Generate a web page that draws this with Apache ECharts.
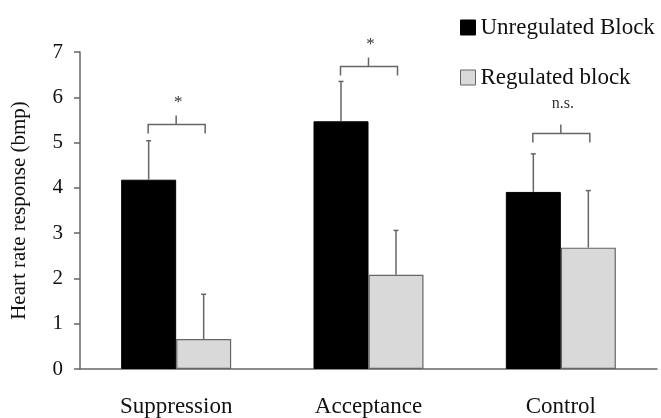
<!DOCTYPE html>
<html>
<head>
<meta charset="utf-8">
<script src="https://cdn.jsdelivr.net/npm/echarts@6/dist/echarts.min.js"></script>
<style>
  html, body { margin: 0; padding: 0; background: #fff; }
  #chart { width: 661px; height: 418px; }
</style>
</head>
<body>
<div id="chart"></div>
<script>
// data
const categories = ["Suppression", "Acceptance", "Control"];
const unregulated = [4.18, 5.47, 3.91];
const unregulatedErr = [0.86, 0.88, 0.84];
const regulated = [0.66, 2.08, 2.68];
const regulatedErr = [0.99, 0.98, 1.26];
// significance brackets: height of the bracket line and its label
const bracketLevel = [5.4, 6.68, 5.2];
const bracketLabel = ["*", "*", "n.s."];

const FONT = "Liberation Serif";
const BAR_W = 55;

// error bar: vertical line from bar top plus a small cap
function errorBars(means, errs, offset) {
  return {
    type: "custom",
    silent: true,
    z: 5,
    data: means.map((m, i) => [i, m, m + errs[i]]),
    renderItem: function (params, api) {
      const lo = api.coord([api.value(0), api.value(1)]);
      const hi = api.coord([api.value(0), api.value(2)]);
      const x = lo[0] + offset;
      const st = { stroke: "#666", lineWidth: 1.5 };
      return {
        type: "group",
        children: [
          { type: "line", shape: { x1: x, y1: lo[1], x2: x, y2: hi[1] }, style: st },
          { type: "line", shape: { x1: x - 2.5, y1: hi[1], x2: x + 2.5, y2: hi[1] }, style: st }
        ]
      };
    }
  };
}

const chart = echarts.init(document.getElementById("chart"));
const option = {
  animation: false,
  grid: { left: 80, right: 4, top: 52, bottom: 46 },
  legend: {
    orient: "vertical",
    left: 455,
    top: 11,
    itemWidth: 15,
    itemHeight: 15,
    itemGap: 27,
    itemStyle: { borderWidth: 1 },
    icon: "rect",
    textStyle: { fontFamily: FONT, fontSize: 23, color: "#111", lineHeight: 23 },
    data: ["Unregulated Block", "Regulated block"]
  },
  xAxis: {
    type: "category",
    data: categories,
    axisTick: { show: false },
    axisLine: { lineStyle: { color: "#666", width: 1.5 } },
    axisLabel: { fontFamily: FONT, fontSize: 23, color: "#111", margin: 26 }
  },
  yAxis: {
    type: "value",
    min: 0,
    max: 7,
    interval: 1,
    name: "Heart rate response (bmp)",
    nameLocation: "middle",
    nameGap: 50,
    nameTextStyle: { fontFamily: FONT, fontSize: 21, color: "#111" },
    splitLine: { show: false },
    axisLine: { show: true, lineStyle: { color: "#666", width: 1.5 } },
    axisTick: { show: true, inside: false, length: 6, lineStyle: { color: "#666", width: 1.5 } },
    axisLabel: { fontFamily: FONT, fontSize: 21, color: "#111", margin: 17 }
  },
  series: [
    {
      name: "Unregulated Block",
      type: "bar",
      data: unregulated,
      barWidth: BAR_W,
      barGap: "0%",
      itemStyle: { color: "#000", borderColor: "#000", borderWidth: 1 }
    },
    {
      name: "Regulated block",
      type: "bar",
      data: regulated,
      barWidth: BAR_W,
      barGap: "0%",
      itemStyle: { color: "#d9d9d9", borderColor: "#666", borderWidth: 1.2 }
    },
    errorBars(unregulated, unregulatedErr, -BAR_W / 2),
    errorBars(regulated, regulatedErr, BAR_W / 2),
    {
      type: "custom",
      silent: true,
      z: 6,
      data: bracketLevel.map((v, i) => [i, v]),
      renderItem: function (params, api) {
        const p = api.coord([api.value(0), api.value(1)]);
        const cx = p[0], y = p[1];
        const st = { stroke: "#666", lineWidth: 1.5, fill: null };
        const lbl = bracketLabel[params.dataIndex];
        const isStar = lbl === "*";
        return {
          type: "group",
          children: [
            {
              type: "polyline",
              shape: { points: [[cx - 28, y + 9], [cx - 28, y], [cx + 29, y], [cx + 29, y + 9]] },
              style: st
            },
            { type: "line", shape: { x1: cx, y1: y, x2: cx, y2: y - 9 }, style: st },
            {
              type: "text",
              style: {
                text: lbl,
                x: cx + 2,
                y: isStar ? y - 22 : y - 30,
                align: "center",
                verticalAlign: "middle",
                font: (isStar ? 17 : 16) + "px '" + FONT + "'",
                fill: "#333"
              }
            }
          ]
        };
      }
    }
  ]
};
chart.setOption(option);
</script>
</body>
</html>
